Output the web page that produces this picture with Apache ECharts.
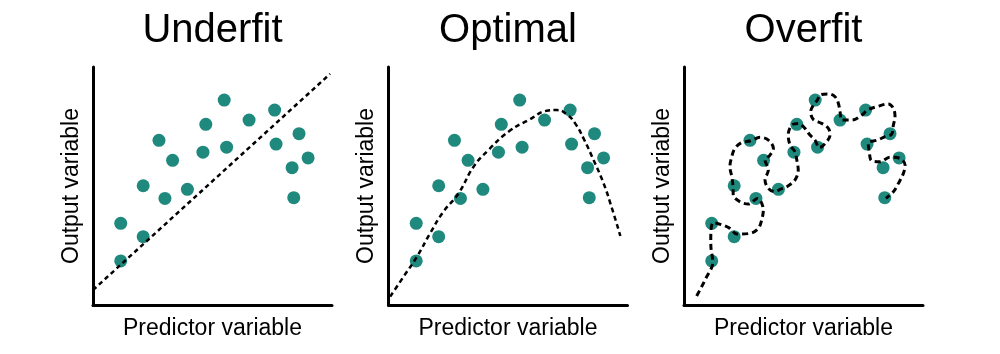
<!DOCTYPE html>
<html>
<head>
<meta charset="utf-8">
<script src="https://cdn.jsdelivr.net/npm/echarts@6/dist/echarts.min.js"></script>
<style>
html,body{margin:0;padding:0;background:#fff;}
#chart{width:1000px;height:354px;}
</style>
</head>
<body>
<div id="chart"></div>
<script>
// Panel titles and axis names
const panelTitles = ['Underfit', 'Optimal', 'Overfit'];
const xAxisName = 'Predictor variable';
const yAxisName = 'Output variable';

// Observed points (same in all three panels), axes run 0..100
const pointX = [11.6, 11.6, 21.0, 21.0, 27.6, 30.1, 33.3, 39.5, 46.0, 47.2, 55.9, 54.9, 65.3, 76.0, 76.6, 86.2, 90.0, 83.3, 84.0];
const pointY = [18.5, 34.3, 28.7, 50.1, 69.2, 44.8, 60.8, 48.6, 64.2, 75.9, 66.3, 86.1, 77.7, 81.9, 67.6, 72.0, 61.8, 57.7, 45.1];

// Underfit: straight dashed line
const underfitLine = [[0, 6.3], [99.2, 97.1]];

// Optimal: smooth dashed curve
const optimalCurve = [
  [0.7, 3.5], [6.3, 11.9], [11.9, 20.3], [17.4, 30.1], [23.0, 39.2], [29.3, 46.9],
  [35.6, 58.1], [41.8, 65.1], [50.2, 72.8], [58.6, 77.7], [66.9, 81.7], [70.5, 81.9],
  [74.6, 80.1], [78.1, 76.3], [81.6, 70.0], [85.8, 60.9], [90.0, 51.1], [93.5, 40.6], [97.0, 29.0]
];

// Overfit: wiggly dashed path through the points
const overfitCurve = [
  [5.3, 3.8], [7.4, 7.7], [9.5, 11.9], [11.6, 15.8], [12.0, 18.5], [11.3, 23.8], [11.2, 27.3],
  [12.3, 34.6], [16.2, 33.6], [19.2, 32.2], [22.1, 29.8], [27.6, 30.1], [31.1, 32.2], [32.5, 35.7],
  [33.2, 39.9], [30.7, 44.8], [26.9, 42.4], [23.4, 43.4], [20.6, 46.2], [20.5, 50.0], [20.0, 53.9],
  [19.2, 58.1], [20.0, 62.3], [21.3, 65.8], [24.1, 68.2], [27.9, 69.0], [31.8, 70.5], [35.3, 69.3],
  [37.4, 65.8], [36.0, 63.0], [33.9, 60.9], [35.3, 56.7], [33.9, 52.5], [35.3, 49.0], [38.1, 47.6],
  [40.2, 48.6], [43.0, 49.7], [46.4, 52.5], [47.8, 56.7], [47.2, 60.9], [46.4, 64.4], [44.4, 67.2],
  [43.6, 71.4], [45.1, 75.6], [47.8, 76.3], [50.6, 74.2], [52.7, 71.4], [54.8, 69.3], [56.6, 66.1],
  [59.7, 68.6], [61.1, 71.4], [60.4, 74.2], [57.6, 76.3], [54.1, 78.0], [53.0, 81.2], [54.1, 84.0],
  [55.8, 86.1], [56.9, 88.2], [60.4, 88.7], [63.2, 87.5], [64.6, 84.7], [65.3, 81.2], [66.0, 77.7],
  [70.2, 77.7], [74.4, 79.8], [76.7, 81.9], [80.6, 83.3], [85.5, 84.5], [87.6, 82.6], [88.3, 79.1],
  [87.6, 75.6], [86.9, 71.8], [84.1, 70.7], [80.9, 69.3], [77.1, 67.9], [77.5, 64.4], [78.5, 60.6],
  [82.0, 60.2], [86.2, 62.1], [90.4, 61.6], [92.5, 58.8], [91.8, 55.3], [89.7, 51.1], [87.6, 47.6], [84.5, 44.8]
];

const curves = [underfitLine, optimalCurve, overfitCurve];
const smoothness = [false, 0.5, 0.35];
const dashWidths = [2.5, 2.5, 3];
const dashTypes = [[4.5, 3.5], [5, 3.5], [6, 4]];

const chart = echarts.init(document.getElementById('chart'), null, {renderer: 'canvas'});
const lefts = [93, 388.5, 684];
const gridW = 239, gridTop = 67, gridH = 238;
const points = pointX.map((x, i) => [x, pointY[i]]);
const FONT = '"Liberation Sans", Arial, sans-serif';

const option = {
  animation: false,
  backgroundColor: '#ffffff',
  title: panelTitles.map((t, i) => ({
    text: t,
    left: lefts[i] + gridW / 2 - 5,
    top: 6,
    textAlign: 'center',
    textStyle: {fontFamily: FONT, fontSize: 40, fontWeight: 'normal', color: '#000'}
  })),
  grid: lefts.map(l => ({left: l, top: gridTop, width: gridW, height: gridH})),
  xAxis: lefts.map((l, i) => ({
    type: 'value', gridIndex: i, min: 0, max: 100,
    name: xAxisName, nameLocation: 'middle', nameGap: 12,
    nameTextStyle: {fontFamily: FONT, fontSize: 23, color: '#000', verticalAlign: 'top'},
    axisLine: {show: true, onZero: false, lineStyle: {color: '#000', width: 3}},
    axisTick: {show: false}, axisLabel: {show: false}, splitLine: {show: false}
  })),
  yAxis: lefts.map((l, i) => ({
    type: 'value', gridIndex: i, min: 0, max: 100,
    name: yAxisName, nameLocation: 'middle', nameGap: 10,
    nameTextStyle: {fontFamily: FONT, fontSize: 23, color: '#000'},
    axisLine: {show: true, onZero: false, lineStyle: {color: '#000', width: 3}},
    axisTick: {show: false}, axisLabel: {show: false}, splitLine: {show: false}
  })),
  series: []
};

lefts.forEach((l, i) => {
  option.series.push({
    type: 'scatter', xAxisIndex: i, yAxisIndex: i, data: points,
    symbolSize: 13, itemStyle: {color: '#1f897e', opacity: 1}, z: 2, silent: true
  });
  option.series.push({
    type: 'line', xAxisIndex: i, yAxisIndex: i, data: curves[i],
    smooth: smoothness[i], showSymbol: false, symbol: 'none',
    lineStyle: {color: '#000', width: dashWidths[i], type: dashTypes[i]}, z: 3, silent: true
  });
});

chart.setOption(option);
</script>
</body>
</html>
